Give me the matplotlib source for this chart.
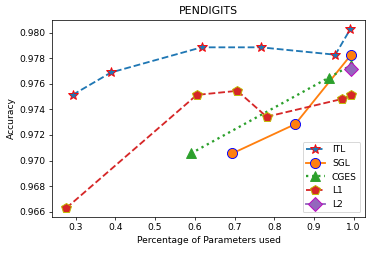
import matplotlib
matplotlib.use("Agg")
import matplotlib.pyplot as plt

itl_x = [0.292, 0.389, 0.617, 0.766, 0.954, 0.992]
itl_y = [0.97514, 0.97690, 0.97887, 0.97887, 0.97829, 0.98031]
sgl_x = [0.694, 0.853, 0.993]
sgl_y = [0.97055, 0.97285, 0.97826]
cges_x = [0.590, 0.938, 0.993]
cges_y = [0.97055, 0.97650, 0.97745]
l1_x = [0.276, 0.605, 0.707, 0.781, 0.972, 0.993]
l1_y = [0.96627, 0.97514, 0.97546, 0.97343, 0.97483, 0.97514]
l2_x = [0.993]
l2_y = [0.97717]

DPI = 66
fig = plt.figure(figsize=(374 / DPI, 253 / DPI), dpi=DPI)
ax = fig.add_axes([0.139, 0.142, 0.837, 0.779])

ax.plot(itl_x, itl_y, '--', color='C0', marker='*', markersize=12, lw=2,
        markerfacecolor='C0', markeredgecolor='red', label='ITL')
ax.plot(sgl_x, sgl_y, '-', color='C1', marker='o', markersize=11, lw=2,
        markerfacecolor='C1', markeredgecolor='blue', label='SGL')
ax.plot(cges_x, cges_y, ':', color='C2', marker='^', markersize=11, lw=2.5,
        markerfacecolor='C2', markeredgecolor='C2', label='CGES')
ax.plot(l1_x, l1_y, '--', color='C3', marker='p', markersize=11, lw=2,
        markerfacecolor='C3', markeredgecolor='y', label='L1')
ax.plot(l2_x, l2_y, '-', color='C4', marker='D', markersize=11, lw=2,
        markerfacecolor='C4', markeredgecolor='m', label='L2')

ax.set_title('PENDIGITS')
ax.set_xlabel('Percentage of Parameters used')
ax.set_ylabel('Accuracy')
ax.legend(loc='lower right')

fig.savefig('out.png', dpi=DPI)
